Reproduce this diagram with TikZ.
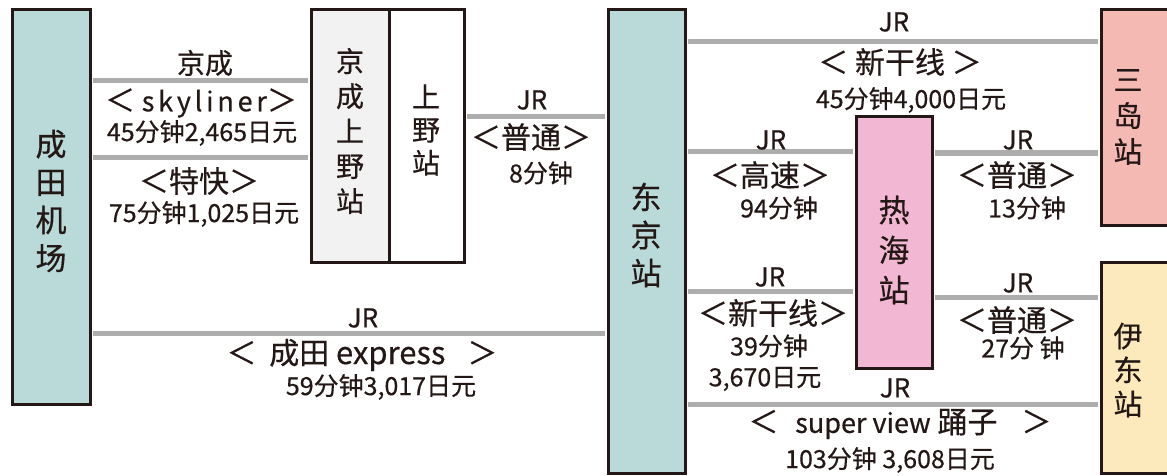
\documentclass[tikz,border=0pt]{standalone}
\usepackage{fontspec}
\setmainfont{Noto Sans CJK SC}[FakeBold=0.5]
\definecolor{ink}{HTML}{231815}
\definecolor{tealfill}{HTML}{B9DAD8}
\definecolor{mishimafill}{HTML}{F5B9B4}
\definecolor{itofill}{HTML}{FCEABD}
\definecolor{atamifill}{HTML}{F2B8D3}
\definecolor{ksfill}{HTML}{F2F2F2}
\definecolor{railgray}{HTML}{ADADAD}
\tikzset{
  stbox/.style={draw=ink, line width=3pt, inner sep=0pt},
  rail/.style={draw=railgray, line width=5pt, shorten <=1.5pt, shorten >=1.5pt},
  lbl/.style={text=ink, inner sep=0pt},
  jr/.style={lbl, font=\fontsize{26}{30}\selectfont},
  brk/.style={lbl, font=\fontsize{30}{34}\selectfont},
  num/.style={lbl, font=\fontsize{25}{28}\selectfont},
  vname/.style={lbl, align=center, font=\fontsize{31}{38}\selectfont},
  vsmall/.style={lbl, align=center, font=\fontsize{28}{35}\selectfont},
}
\begin{document}
\begin{tikzpicture}[x=1pt,y=-1pt]
\useasboundingbox (0,0) rectangle (1167,476);
\clip (0,0) rectangle (1167,476);
% stations
\node[stbox, fill=tealfill, minimum width=78pt, minimum height=394pt] (narita) at (51,207) {};
\node[stbox, fill=ksfill, minimum width=78pt, minimum height=252pt] (ks) at (350,136) {};
\node[stbox, fill=white, minimum width=75pt, minimum height=252pt] (ueno) at (426.5,136) {};
\node[stbox, fill=tealfill, minimum width=77pt, minimum height=463pt] (tokyo) at (646.5,241.5) {};
\node[stbox, fill=atamifill, minimum width=76pt, minimum height=251pt] (atami) at (894,242.5) {};
\node[stbox, fill=mishimafill, minimum width=79pt, minimum height=215pt] (mishima) at (1140.5,117.5) {};
\node[stbox, fill=itofill, minimum width=79pt, minimum height=211pt] (ito) at (1140.5,367.5) {};
% station names
\node[vname] (naritaL) at (51,201) {成\\田\\机\\场};
\node[vsmall] (ksL) at (350,131) {京\\成\\上\\野\\站};
\node[vsmall, font=\fontsize{28}{33}\selectfont] (uenoL) at (426,130) {上\\野\\站};
\node[vname] (tokyoL) at (646,235) {东\\京\\站};
\node[vname, font=\fontsize{31}{40}\selectfont] (atamiL) at (894,250) {热\\海\\站};
\node[vsmall, font=\fontsize{29}{36}\selectfont] (mishimaL) at (1128,117) {三\\岛\\站};
\node[vsmall, font=\fontsize{29}{34}\selectfont] (itoL) at (1128,370) {伊\\东\\站};
% rails
\draw[rail] (narita.east |- 0,81) -- (ks.west |- 0,81);
\draw[rail] (narita.east |- 0,157) -- (ks.west |- 0,157);
\draw[rail] (ueno.east |- 0,117) -- (tokyo.west |- 0,117);
\draw[rail] (narita.east |- 0,333) -- (tokyo.west |- 0,333);
\draw[rail] (tokyo.east |- 0,42) -- (mishima.west |- 0,42);
\draw[rail] (tokyo.east |- 0,152) -- (atami.west |- 0,152);
\draw[rail] (atami.east |- 0,153) -- (mishima.west |- 0,153);
\draw[rail] (tokyo.east |- 0,291) -- (atami.west |- 0,291);
\draw[rail] (atami.east |- 0,297) -- (ito.west |- 0,297);
\draw[rail] (tokyo.east |- 0,404) -- (ito.west |- 0,404);
% Keisei labels
\node[lbl, font=\fontsize{28}{32}\selectfont] (t1) at (205,63) {京成};
\node[brk] (t2) at (201,103) {＜ {\fontsize{27}{30}\selectfont\addfontfeature{LetterSpace=14}skyliner}＞};
\node[num] (t3) at (202,133) {45分钟2,465日元};
\node[brk] (t4) at (199,181) {＜特快＞};
\node[num] (t5) at (204,214) {75分钟1,025日元};
% Ueno - Tokyo
\node[jr] (t6) at (532,100) {JR};
\node[brk] (t7) at (531,137) {＜普通＞};
\node[num] (t8) at (541,173) {8分钟};
% Narita Express
\node[jr] (t9) at (363,318) {JR};
\node[brk] (t10) at (362,355) {＜\hspace{6pt} 成田 {\fontsize{31}{34}\selectfont express}\hspace{22pt}＞};
\node[num] (t11) at (381,387) {59分钟3,017日元};
% Tokyo - Mishima
\node[jr] (t12) at (894,22) {JR};
\node[brk] (t13) at (900,62) {＜ 新干线 ＞};
\node[num] (t14) at (911,100) {45分钟4,000日元};
% Tokyo - Atami high speed
\node[jr] (t15) at (771,140) {JR};
\node[brk] (t16) at (770,175) {＜高速＞};
\node[num] (t17) at (779,208) {94分钟};
% Atami - Mishima
\node[jr] (t18) at (1018,140) {JR};
\node[brk] (t19) at (1017,175) {＜普通＞};
\node[num] (t20) at (1027,208) {13分钟};
% Tokyo - Atami shinkansen
\node[jr] (t21) at (770,277) {JR};
\node[brk] (t22) at (773,313) {＜新干线＞};
\node[num] (t23) at (769,346) {39分钟};
\node[num] (t24) at (765,379) {3,670日元};
% Atami - Ito
\node[jr] (t25) at (1018,283) {JR};
\node[brk] (t26) at (1017,320) {＜普通＞};
\node[num] (t27) at (1023,348) {27分 钟};
% Super view
\node[jr] (t28) at (895,388) {JR};
\node[brk] (t29) at (900,424) {＜\hspace{10pt} {\fontsize{27}{30}\selectfont super view} 踊子\hspace{24pt}＞};
\node[num] (t30) at (890,460) {103分钟 3,608日元};
\end{tikzpicture}
\end{document}
